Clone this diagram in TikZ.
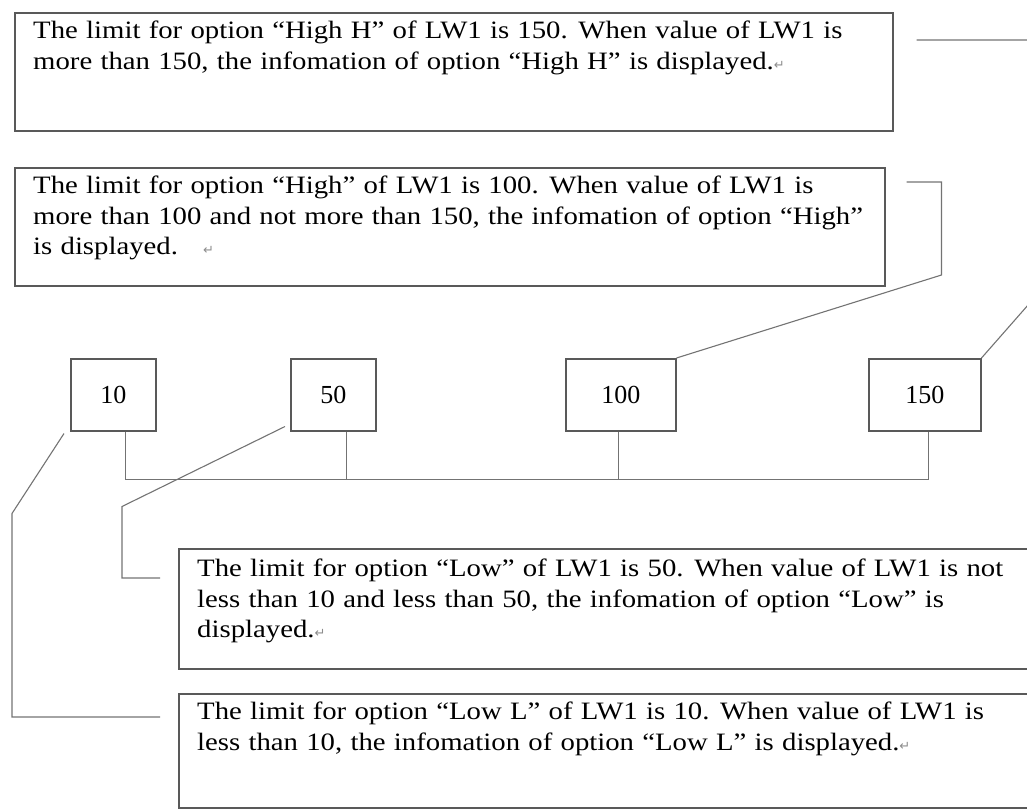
\documentclass[tikz,border=0pt]{standalone}
\usepackage{fontspec}
\setmainfont{Liberation Serif}
\newfontfamily\fonteTexto[FakeStretch=1.15,WordSpace=1.15]{Liberation Serif}
\newfontfamily\markfont{DejaVu Sans}
\usetikzlibrary{calc}
\tikzset{
    caixaTexto/.style={
        draw=black!65,
        line width=1.5pt,
        anchor=north west,
        inner sep=0pt
    },
    caixaValor/.style={caixaTexto, font=\fontsize{26}{28}\selectfont},
    texto/.style={
        anchor=north west,
        align=left,
        inner sep=0pt,
        font=\fonteTexto\fontsize{25}{30.5}\selectfont
    },
    ligacao/.style={draw=black!55, line width=1.1pt}
}
\newcommand{\fimpar}{{\markfont\color{black!45}\fontsize{13}{13}\selectfont ↵}}

\begin{document}
\begin{tikzpicture}[x=1pt,y=-1pt]
    \clip (0,0) rectangle (1027,811);

    % caixas de texto
    \node[caixaTexto, minimum width=878pt, minimum height=118pt] (highH) at (14,12) {};
    \node[texto] (highHtxt) at ($(highH.north west)+(19,9)$)
    {The limit for option “High H” of LW1 is 150. When value of LW1 is\\
     more than 150, the infomation of option “High H” is displayed.\fimpar};

    \node[caixaTexto, minimum width=870pt, minimum height=118pt] (high) at (14,167) {};
    \node[texto] (hightxt) at ($(high.north west)+(19,9)$)
    {The limit for option “High” of LW1 is 100. When value of LW1 is\\
     more than 100 and not more than 150, the infomation of option “High”\\
     is displayed.\quad\fimpar};

    \node[caixaTexto, minimum width=870pt, minimum height=120pt] (low) at (178,548) {};
    \node[texto] (lowtxt) at ($(low.north west)+(19,11)$)
    {The limit for option “Low” of LW1 is 50. When value of LW1 is not\\
     less than 10 and less than 50, the infomation of option “Low” is\\
     displayed.\fimpar};

    \node[caixaTexto, minimum width=870pt, minimum height=114pt] (lowL) at (178,693) {};
    \node[texto] (lowLtxt) at ($(lowL.north west)+(19,9)$)
    {The limit for option “Low L” of LW1 is 10. When value of LW1 is\\
     less than 10, the infomation of option “Low L” is displayed.\fimpar};

    % valores limite
    \node[caixaValor, minimum width=85pt, minimum height=72pt] (v10) at (70,358) {10};
    \node[caixaValor, minimum width=85pt, minimum height=72pt] (v50) at (290,358) {50};
    \node[caixaValor, minimum width=110pt, minimum height=72pt] (v100) at (565,358) {100};
    \node[caixaValor, minimum width=112pt, minimum height=72pt] (v150) at (868,358) {150};

    % barramento
    \draw[ligacao] ([xshift=12pt]v10.south) -- ++(0,48) -| ([xshift=4pt]v150.south);
    \draw[ligacao] ([xshift=13pt]v50.south) -- ++(0,48);
    \draw[ligacao] ([xshift=-2pt]v100.south) -- ++(0,48);

    % chamadas
    \draw[ligacao] ($(highH.north east)+(23,28)$) -- ++(130,0) -- ++(0,244) -- (v150.north east);
    \draw[ligacao] ($(high.north east)+(21,15)$) -- ++(35,0) -- ++(0,93) -- (v100.north east);
    \draw[ligacao] ($(v50.south west)+(-5,-5)$) -- ++(-163,80) |- ($(low.north west)+(-18,30)$);
    \draw[ligacao] ($(v10.south west)+(-6,2)$) -- ++(-52,80) |- ($(lowL.north west)+(-18,24)$);

\end{tikzpicture}
\end{document}
